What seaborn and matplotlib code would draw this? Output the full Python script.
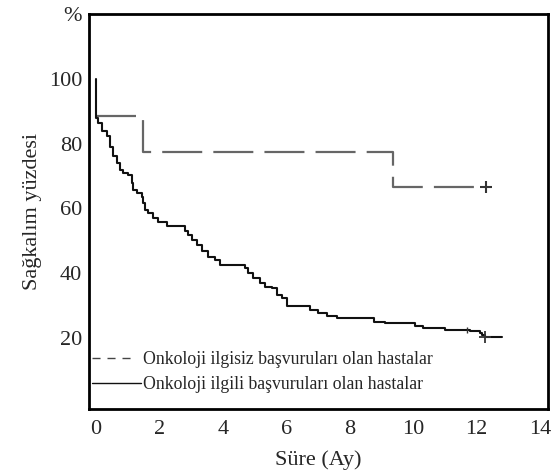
import matplotlib
matplotlib.use("Agg")
import matplotlib.pyplot as plt
import seaborn as sns
import pandas as pd
from matplotlib.lines import Line2D

# --- data ---
t_ilgisiz = [0.0, 1.48, 9.37, 12.3]
s_ilgisiz = [88.4, 77.4, 66.6, 66.6]
cens_ilgisiz_t = [12.3]
cens_ilgisiz_s = [66.6]

t_ilgili = [0.0, 0.0, 0.07, 0.18, 0.34, 0.44, 0.55, 0.65, 0.76, 0.86, 1.02, 1.13, 1.18,
            1.28, 1.44, 1.49, 1.55, 1.65, 1.81, 1.97, 2.23, 2.81, 2.91, 3.02, 3.18,
            3.33, 3.54, 3.75, 3.91, 4.70, 4.80, 4.96, 5.17, 5.33, 5.54, 5.70, 5.86,
            6.02, 6.75, 7.01, 7.28, 7.59, 8.75, 9.12, 10.06, 10.32, 11.01, 11.80,
            12.11, 12.17, 12.27, 12.80]
s_ilgili = [100.0, 88.0, 86.3, 83.8, 82.2, 79.0, 76.0, 74.0, 71.9, 70.9, 70.3, 67.8, 65.7,
            64.7, 63.6, 61.6, 59.5, 58.5, 56.9, 55.9, 54.6, 52.9, 51.8, 50.3, 48.7,
            46.7, 45.1, 44.1, 42.6, 41.6, 40.0, 38.4, 36.9, 35.8, 35.3, 33.3, 32.3,
            29.7, 28.6, 27.6, 26.8, 26.1, 25.0, 24.5, 23.5, 23.0, 22.5, 22.0,
            21.6, 20.9, 20.2, 20.2]
cens_ilgili_t = [11.7, 12.27]
cens_ilgili_s = [22.5, 20.2]

label_ilgisiz = "Onkoloji ilgisiz başvuruları olan hastalar"
label_ilgili = "Onkoloji ilgili başvuruları olan hastalar"
xticks = [0, 2, 4, 6, 8, 10, 12, 14]
yticks = [-2, 20, 40, 60, 80, 100, 120]
ytick_labels = ["", "20", "40", "60", "80", "100", "%"]

sns.set_style("white")
plt.rcParams["font.family"] = ["Liberation Serif", "DejaVu Serif"]

fig = plt.figure(figsize=(5.56, 4.71), dpi=100)
ax = fig.add_axes([89/556, 1 - 409/471, (548-89)/556, (409-14)/471])

df1 = pd.DataFrame({"t": t_ilgisiz, "s": s_ilgisiz})
df2 = pd.DataFrame({"t": t_ilgili, "s": s_ilgili})

sns.lineplot(data=df1, x="t", y="s", ax=ax, estimator=None, sort=False,
             drawstyle="steps-post", color="#666666", linewidth=1.6,
             dashes=False, linestyle=(0, (18, 5)))
sns.lineplot(data=df2, x="t", y="s", ax=ax, estimator=None, sort=False,
             drawstyle="steps-post", color="#111111", linewidth=1.5)
ax.plot(cens_ilgisiz_t, cens_ilgisiz_s, linestyle="none", marker="+",
        markersize=9, markeredgewidth=1.5, color="#333333")
ax.plot(cens_ilgili_t[:1], cens_ilgili_s[:1], linestyle="none", marker="|",
        markersize=4, markeredgewidth=1.0, color="#333333")
ax.plot(cens_ilgili_t[1:], cens_ilgili_s[1:], linestyle="none", marker="+",
        markersize=8, markeredgewidth=1.3, color="#333333")

ax.set_xlim(-0.22, 14.25)
ax.set_ylim(-2, 120)
ax.set_xticks(xticks)
ax.set_xticklabels([str(x) for x in xticks], fontsize=16)
ax.set_yticks(yticks)
ax.set_yticklabels(ytick_labels, fontsize=16)
ax.tick_params(axis="x", length=0, pad=8)
ax.tick_params(axis="y", length=4, width=3, color="black", pad=1, direction="out")

ax.set_xlabel("Süre (Ay)", fontsize=16, labelpad=8)
ax.set_ylabel("Sağkalım yüzdesi", fontsize=16, labelpad=5)

for sp in ax.spines.values():
    sp.set_visible(True)
    sp.set_color("black")
    sp.set_linewidth(2)

handles = [Line2D([], [], color="#444444", linewidth=1.0,
                  linestyle=(0, (5.8, 5, 5.8, 5, 5.8, 30))),
           Line2D([], [], color="#111111", linewidth=1.0)]
ax.legend(handles, [label_ilgisiz, label_ilgili], loc="lower left",
          bbox_to_anchor=(-0.025, 0.005), frameon=False, fontsize=12.8,
          handlelength=2.75, handletextpad=0.12, labelspacing=0.45, borderpad=0.3)

fig.savefig("out.png", dpi=100)
